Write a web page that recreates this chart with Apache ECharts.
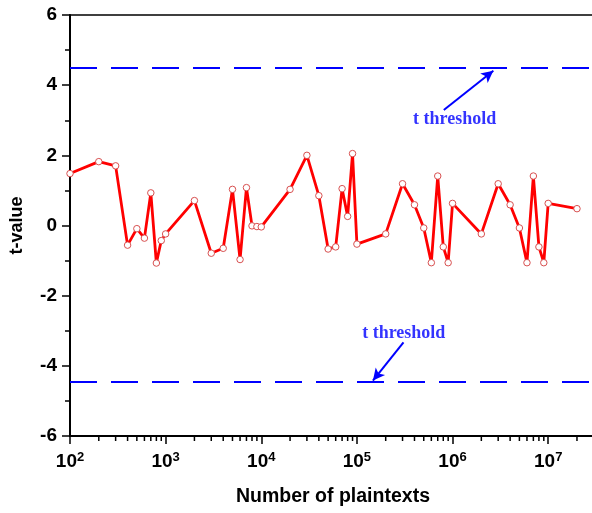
<!DOCTYPE html>
<html><head><meta charset="utf-8">
<script src="https://cdn.jsdelivr.net/npm/echarts@6/dist/echarts.min.js"></script>
<style>html,body{margin:0;padding:0;background:#fff}#c{width:592px;height:513px}</style>
</head><body><div id="c"></div>
<script>
// ---- data ----
const plaintextCounts = [100,200,300,400,500,600,700,800,900,1000,
  2000,3000,4000,5000,6000,7000,8000,9000,10000,
  20000,30000,40000,50000,60000,70000,80000,90000,100000,
  200000,300000,400000,500000,600000,700000,800000,900000,1000000,
  2000000,3000000,4000000,5000000,6000000,7000000,8000000,9000000,10000000,
  20000000];
const tValues = [1.48,1.82,1.70,-0.56,-0.09,-0.36,0.93,-1.07,-0.43,-0.24,
  0.71,-0.79,-0.65,1.03,-0.97,1.08,-0.01,-0.03,-0.04,
  1.03,2.00,0.85,-0.67,-0.61,1.05,0.26,2.05,-0.53,
  -0.24,1.19,0.59,-0.07,-1.06,1.41,-0.61,-1.06,0.63,
  -0.24,1.19,0.59,-0.07,-1.06,1.41,-0.61,-1.06,0.63,
  0.48];
const thresholdValues = [4.5, -4.45];
const annotationTexts = ['t threshold', 't threshold'];
const annotationPositions = [[1.05e6, 3.04], [3.09e5, -3.06]];
const arrowStarts = [[8.1e5, 3.29], [3.07e5, -3.33]];
const arrowEnds = [[2.67e6, 4.41], [1.47e5, -4.42]];
const xMin = 100, xMax = Math.pow(10, 7.5);
const yMin = -6, yMax = 6, yInterval = 2;
const minorMultipliers = [2,3,4,5,6,7,8,9];
const decadeExponents = [2,3,4,5,6,7];

// minor ticks for log axis
const minorTickValues = [];
decadeExponents.forEach(e => minorMultipliers.forEach(m => {
  const v = m * Math.pow(10, e);
  if (v < xMax) minorTickValues.push([v, yMin]);
}));

const font = 'Arial, "Liberation Sans", sans-serif';
const serif = '"Times New Roman", "Liberation Serif", serif';
const chart = echarts.init(document.getElementById('c'), null, {renderer: 'canvas'});
chart.setOption({
  animation: false,
  backgroundColor: '#fff',
  grid: {left: 70, top: 15, right: -4, bottom: 77, show: true, borderColor: '#000', borderWidth: 1.5, outerBoundsMode: 'none', containLabel: false},
  xAxis: {
    type: 'log', logBase: 10, min: xMin, max: xMax,
    name: 'Number of plaintexts', nameLocation: 'middle', nameGap: 51,
    nameTextStyle: {fontFamily: font, fontWeight: 'bold', fontSize: 19.5, color: '#000'},
    axisLine: {show: true, onZero: false, lineStyle: {color: '#000', width: 2}},
    axisTick: {show: true, length: 8, lineStyle: {color: '#000', width: 1.5}},
    splitLine: {show: false},
    axisLabel: {
      margin: 15, showMaxLabel: false,
      formatter: v => '{b|10}{s|' + Math.round(Math.log10(v)) + '}',
      rich: {
        b: {fontFamily: font, fontWeight: 'bold', fontSize: 19, color: '#000', lineHeight: 22},
        s: {fontFamily: font, fontWeight: 'bold', fontSize: 13, color: '#000', verticalAlign: 'top', lineHeight: 12}
      }
    }
  },
  yAxis: {
    type: 'value', min: yMin, max: yMax, interval: yInterval,
    name: 't-value', nameLocation: 'middle', nameGap: 44, nameRotate: 90,
    nameTextStyle: {fontFamily: font, fontWeight: 'bold', fontSize: 18, color: '#000'},
    axisLine: {show: true, onZero: false, lineStyle: {color: '#000', width: 2}},
    axisTick: {show: true, length: 8, lineStyle: {color: '#000', width: 1.5}},
    minorTick: {show: true, splitNumber: 2, length: 5, lineStyle: {color: '#000', width: 1.5}},
    splitLine: {show: false},
    axisLabel: {margin: 13, fontFamily: font, fontWeight: 'bold', fontSize: 19, color: '#000'}
  },
  series: [
    {
      type: 'custom', clip: false, silent: true, z: 5,
      data: minorTickValues,
      renderItem: (params, api) => {
        const p = api.coord([api.value(0), api.value(1)]);
        return {type: 'line', shape: {x1: p[0], y1: p[1], x2: p[0], y2: p[1] + 5},
          style: {stroke: '#000', lineWidth: 1.5}};
      }
    },
    {
      type: 'line', silent: true, z: 3,
      data: [],
      markLine: {
        silent: true, symbol: 'none', animation: false,
        label: {show: false},
        lineStyle: {color: '#0000ff', width: 2, type: [27, 14]},
        data: thresholdValues.map(v => ({yAxis: v}))
      }
    },
    {
      type: 'line', silent: true, z: 3,
      data: [],
      markLine: {
        silent: true, symbol: ['none', 'arrow'], symbolSize: [9, 12], animation: false,
        label: {show: false},
        lineStyle: {color: '#0000ff', width: 2, type: 'solid'},
        data: arrowStarts.map((s, i) => [{coord: s}, {coord: arrowEnds[i]}])
      }
    },
    {
      type: 'scatter', silent: true, symbolSize: 0, z: 4,
      data: annotationPositions.map((p, i) => ({value: p, name: annotationTexts[i]})),
      label: {show: true, position: 'inside', formatter: p => p.name,
        fontFamily: serif, fontWeight: 'bold', fontSize: 18, color: '#0000ff',
        textBorderWidth: 0, textBorderColor: 'transparent'}
    },
    {
      type: 'line', silent: true, z: 6,
      data: plaintextCounts.map((x, i) => [x, tValues[i]]),
      lineStyle: {color: '#ff0000', width: 2.8},
      symbol: 'circle', symbolSize: 6.5, showAllSymbol: true,
      itemStyle: {color: '#ffffff', borderColor: '#d85050', borderWidth: 1}
    }
  ]
});
</script>
</body></html>
